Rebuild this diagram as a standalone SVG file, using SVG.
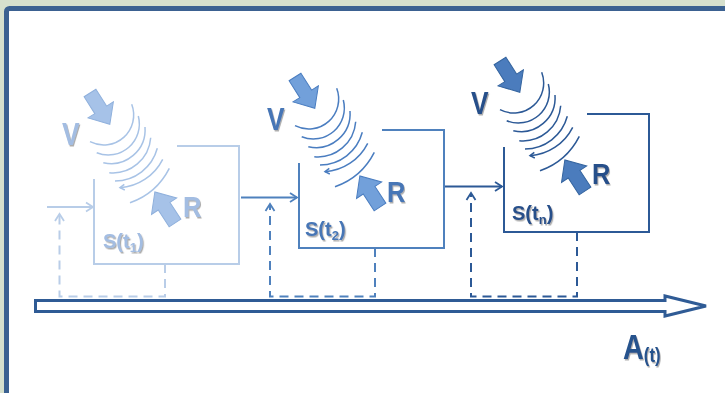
<svg xmlns="http://www.w3.org/2000/svg" width="725" height="393" viewBox="0 0 725 393">
<defs>
<style>
.box{fill:none;stroke-width:2}
.ln{fill:none;stroke-width:2}
.dash{fill:none;stroke-width:2;stroke-dasharray:9,6}
.lbl{font-family:"Liberation Sans",Arial,sans-serif;font-weight:bold}
.ba{stroke-width:1}
</style>
<filter id="sh" x="-30%" y="-30%" width="170%" height="170%">
<feDropShadow dx="1.2" dy="1.5" stdDeviation="0.7" flood-color="#6a6a6a" flood-opacity="0.55"/>
</filter>
<marker id="m1" viewBox="-9 -6 11 12" refX="0" refY="0" markerWidth="11" markerHeight="12" markerUnits="userSpaceOnUse" orient="auto"><path d="M-7,-4.5 L0,0 L-7,4.5" fill="none" stroke="#b8cde8" stroke-width="1.8"/></marker>
<marker id="m2" viewBox="-9 -6 11 12" refX="0" refY="0" markerWidth="11" markerHeight="12" markerUnits="userSpaceOnUse" orient="auto"><path d="M-7,-4.5 L0,0 L-7,4.5" fill="none" stroke="#4f81bd" stroke-width="1.8"/></marker>
<marker id="m3" viewBox="-9 -6 11 12" refX="0" refY="0" markerWidth="11" markerHeight="12" markerUnits="userSpaceOnUse" orient="auto"><path d="M-7,-4.5 L0,0 L-7,4.5" fill="none" stroke="#2c5996" stroke-width="1.8"/></marker>
<g id="coil" fill="none" stroke-width="1.5">
<path d="M336.7,88.3 A30,30 0 0 1 295,125.7"/>
<path d="M343.3,100 A31,31 0 0 1 301.7,136.7"/>
<path d="M350,111 A34,34 0 0 1 308.3,146.7"/>
<path d="M355.7,121.7 A38,38 0 0 1 314.3,156.7"/>
<path d="M362.3,132.3 A44,44 0 0 1 320,165"/>
<path d="M367.7,143.3 A52,52 0 0 1 325,171.7"/>
<path d="M329.3,168.4 L325,171.7 L329.8,174"/>
<path d="M374.3,152.3 A70,70 0 0 1 335,186.7"/>
</g>
<path id="barrow" d="M0,-7 H20 V-15 L37,0 L20,15 V7 H0 Z"/>
</defs>

<rect x="0" y="0" width="725" height="393" fill="#d6e0cd"/>
<rect x="6.5" y="8.5" width="760" height="420" rx="3" fill="#ffffff" stroke="#3b6191" stroke-width="5"/>

<g id="connectors">
<path class="ln" d="M47,207 H93" stroke="#b8cde8" marker-end="url(#m1)"/>
<path class="ln" d="M241,197.5 H297" stroke="#4f81bd" marker-end="url(#m2)"/>
<path class="ln" d="M444,186.5 H502" stroke="#2c5996" marker-end="url(#m3)"/>
<path class="dash" d="M165,264 V296.5 H59.5 V214" stroke="#b9cde8" marker-end="url(#m1)"/>
<path class="dash" d="M375,248 V296.5 H270 V204" stroke="#4f81bd" marker-end="url(#m2)"/>
<path class="dash" d="M577,232 V296.5 H471 V193" stroke="#2c5996" marker-end="url(#m3)"/>
<path d="M35.5,300.5 H665 V296 L706,306 L665,316 V311.5 H35.5 Z" fill="#ffffff" stroke="#2f5b95" stroke-width="3" stroke-linejoin="miter"/>
</g>

<g id="stage1">
<g transform="translate(-205,16)">
<path class="box" d="M299,163 V248 H444 V130 H382" stroke="#b8cde8"/>
<use href="#coil" stroke="#a8c3e6"/>
<use href="#barrow" class="ba" transform="translate(295,77) rotate(57.6)" fill="#a6c2e8" stroke="#8fb0dc"/>
<use href="#barrow" class="ba" transform="translate(380,207) rotate(237)" fill="#a6c2e8" stroke="#8fb0dc"/>
</g>
<text class="lbl" transform="translate(62,145) scale(0.85,1)" font-size="31" fill="#a3bde2" filter="url(#sh)">V</text>
<text class="lbl" transform="translate(183,217) scale(0.85,1)" font-size="30" fill="#a3bde2" filter="url(#sh)">R</text>
<text class="lbl" x="103" y="248" font-size="20" fill="#a3bde2" filter="url(#sh)">S(t<tspan font-size="13" dy="4">1</tspan><tspan dy="-4">)</tspan></text>
</g>

<g id="stage2">
<path class="box" d="M299,163 V248 H444 V130 H382" stroke="#4f81bd"/>
<use href="#coil" stroke="#4a7dc0"/>
<use href="#barrow" class="ba" transform="translate(295,77) rotate(57.6)" fill="#72a0da" stroke="#4a7dc0"/>
<use href="#barrow" class="ba" transform="translate(380,207) rotate(237)" fill="#72a0da" stroke="#4a7dc0"/>
<text class="lbl" transform="translate(267,130) scale(0.85,1)" font-size="31" fill="#4676b6" filter="url(#sh)">V</text>
<text class="lbl" transform="translate(387,202) scale(0.85,1)" font-size="30" fill="#4676b6" filter="url(#sh)">R</text>
<text class="lbl" x="305" y="236" font-size="20" fill="#4676b6" filter="url(#sh)">S(t<tspan font-size="13" dy="4">2</tspan><tspan dy="-4">)</tspan></text>
</g>

<g id="stage3">
<g transform="translate(205,-16)">
<path class="box" d="M299,163 V248 H444 V130 H382" stroke="#2c5996"/>
<use href="#coil" stroke="#2c5996"/>
<use href="#barrow" class="ba" transform="translate(295,77) rotate(57.6)" fill="#4b7cbd" stroke="#34649f"/>
<use href="#barrow" class="ba" transform="translate(380,207) rotate(237)" fill="#4b7cbd" stroke="#34649f"/>
</g>
<text class="lbl" transform="translate(471,114) scale(0.85,1)" font-size="31" fill="#264f8a" filter="url(#sh)">V</text>
<text class="lbl" transform="translate(592,184) scale(0.85,1)" font-size="30" fill="#264f8a" filter="url(#sh)">R</text>
<text class="lbl" x="512" y="220" font-size="20" fill="#264f8a" filter="url(#sh)">S(t<tspan font-size="13" dy="4">n</tspan><tspan dy="-4">)</tspan></text>
</g>

<g id="axis-label">
<text class="lbl" transform="translate(623,359) scale(0.8,1)" fill="#28538d" filter="url(#sh)"><tspan font-size="36">A</tspan><tspan font-size="21" dy="3">(t)</tspan></text>
</g>
</svg>
